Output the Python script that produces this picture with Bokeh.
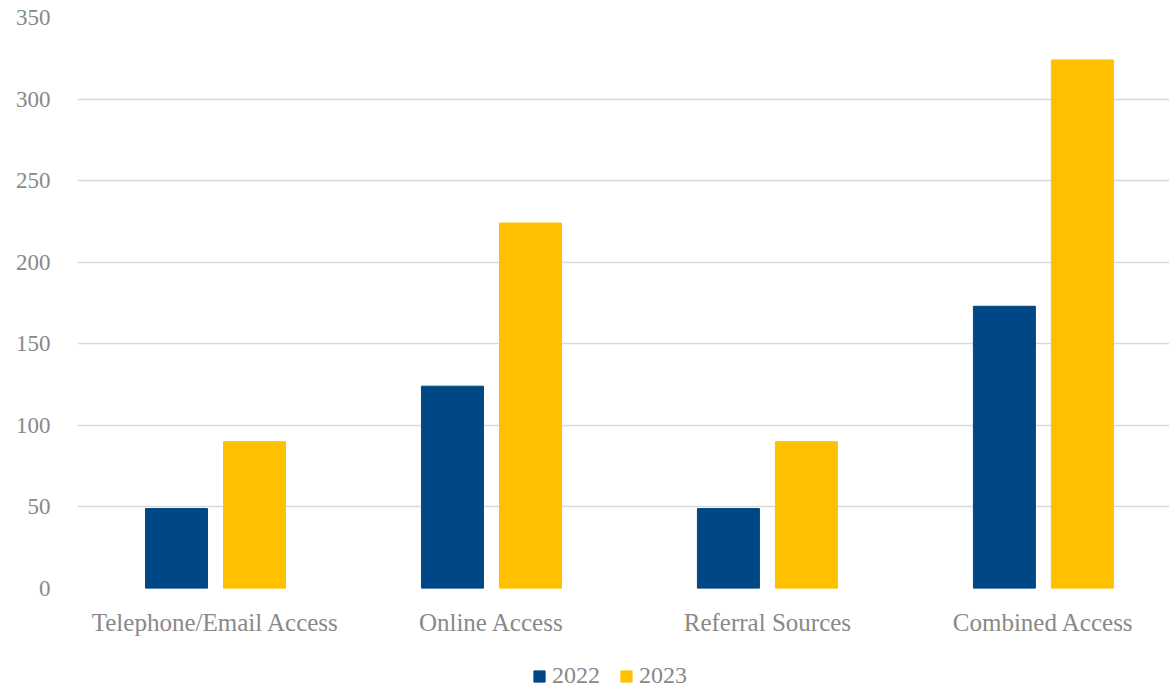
from bokeh.plotting import figure
from bokeh.models import Range1d, Legend, LegendItem, ColumnDataSource, FixedTicker
from bokeh.layouts import column
from bokeh.transform import dodge
from bokeh.embed import file_html
from bokeh.resources import INLINE

categories = ["Telephone/Email Access", "Online Access", "Referral Sources", "Combined Access"]
series_names = ["2022", "2023"]
v2022 = [49, 124, 49, 173]
v2023 = [90, 224, 90, 324]
y_ticks = [0, 50, 100, 150, 200, 250, 300, 350]

BLUE = "#004785"
GOLD = "#FFC000"
TEXT = "#898989"
FONT = "Liberation Serif"

xpos = [i + 0.5 for i in range(len(categories))]
src = ColumnDataSource(dict(x=xpos, v2022=v2022, v2023=v2023))

p = figure(x_range=Range1d(0, 3.957), y_range=Range1d(0, 350),
           frame_width=1092, frame_height=571,
           min_border_left=77, min_border_right=0, min_border_top=17, min_border_bottom=61,
           output_backend="svg", toolbar_location=None)

r1 = p.vbar(x=dodge("x", -0.1413), top="v2022", width=0.2246,
            source=src, fill_color=BLUE, line_color=BLUE)
r2 = p.vbar(x=dodge("x", 0.1413), top="v2023", width=0.2246,
            source=src, fill_color=GOLD, line_color=GOLD)

p.outline_line_color = None
p.background_fill_color = "white"
p.border_fill_color = "white"

p.xgrid.grid_line_color = None
p.ygrid.grid_line_color = "#d9d9d9"
p.ygrid.grid_line_width = 1.5
p.yaxis.ticker = FixedTicker(ticks=y_ticks)
p.xaxis.ticker = FixedTicker(ticks=xpos)
p.xaxis.major_label_overrides = {x: c for x, c in zip(xpos, categories)}

for ax in (p.xaxis[0], p.yaxis[0]):
    ax.axis_line_color = None
    ax.major_tick_line_color = None
    ax.minor_tick_line_color = None
    ax.major_label_text_font = FONT
    ax.major_label_text_color = TEXT

p.yaxis.major_label_text_font_size = "23px"
p.xaxis.major_label_text_font_size = "25px"
p.yaxis.major_label_standoff = 21
p.xaxis.major_label_standoff = 14

# legend strip below the chart (proxy glyphs sit outside the visible range)
p2 = figure(width=1169, height=40, x_range=Range1d(0, 1), y_range=Range1d(0, 1),
            min_border=0, x_axis_location=None, y_axis_location=None,
            output_backend="svg", toolbar_location=None)
p2.outline_line_color = None
p2.grid.grid_line_color = None
proxy = ColumnDataSource(dict(x=[-10], top=[0]))
l1 = p2.vbar(x="x", top="top", width=0.1, source=proxy, fill_color=BLUE, line_color=BLUE)
l2 = p2.vbar(x="x", top="top", width=0.1, source=proxy, fill_color=GOLD, line_color=GOLD)

legend = Legend(items=[LegendItem(label=series_names[0], renderers=[l1]),
                       LegendItem(label=series_names[1], renderers=[l2])],
                orientation="horizontal", location=(455, 0),
                glyph_width=14, glyph_height=14, label_standoff=6, spacing=19,
                label_text_font=FONT, label_text_font_size="24px", label_text_color=TEXT,
                border_line_color=None, background_fill_alpha=0,
                padding=0, margin=0)
p2.add_layout(legend, "center")

layout = column(p, p2, spacing=0)
open("out.html", "w").write(file_html(layout, INLINE))
